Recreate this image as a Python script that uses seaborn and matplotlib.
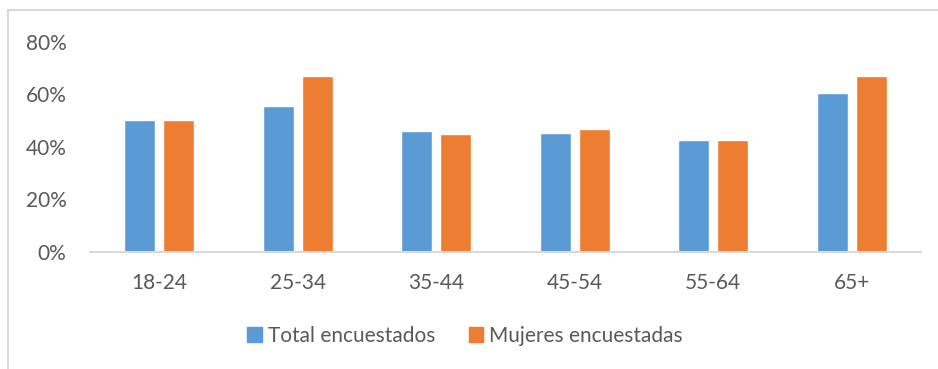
import matplotlib
matplotlib.use("Agg")
import matplotlib.pyplot as plt
import matplotlib.patches as mpatches
from matplotlib.lines import Line2D
import seaborn as sns
import pandas as pd

categories = ["18-24", "25-34", "35-44", "45-54", "55-64", "65+"]
total_encuestados = [0.50, 0.553, 0.458, 0.450, 0.424, 0.604]
mujeres_encuestadas = [0.50, 0.667, 0.447, 0.466, 0.424, 0.667]
series_names = ["Total encuestados", "Mujeres encuestadas"]
colors = ["#5B9BD5", "#ED7D31"]
yticks = [0, 0.2, 0.4, 0.6, 0.8]
ytick_labels = ["0%", "20%", "40%", "60%", "80%"]

df = pd.DataFrame({
    "cat": categories * 2,
    "val": total_encuestados + mujeres_encuestadas,
    "serie": [series_names[0]] * len(categories) + [series_names[1]] * len(categories),
})

sns.set_style("white")
plt.rcParams["font.family"] = ["Lato", "DejaVu Sans"]
txt = "#595959"

fig = plt.figure(figsize=(9.38, 3.69), dpi=100)
ax = fig.add_axes([90/938, (369-251.7)/369, (921-90)/938, (251.7-41.5)/369])
sns.barplot(data=df, x="cat", y="val", hue="serie", hue_order=series_names,
            palette=colors, width=0.56, gap=0.2, ax=ax, legend=False,
            saturation=1, errorbar=None)
ax.set_ylim(0, 0.8)
ax.set_xlim(-0.5, len(categories) - 0.5)
ax.set_yticks(yticks)
ax.set_yticklabels(ytick_labels)
ax.set_xlabel("")
ax.set_ylabel("")
for s in ["top", "right", "left"]:
    ax.spines[s].set_visible(False)
ax.spines["bottom"].set_color("#D9D9D9")
ax.spines["bottom"].set_linewidth(1.5)
ax.tick_params(axis="both", length=0, labelsize=15, labelcolor=txt)
ax.tick_params(axis="x", pad=15)
ax.tick_params(axis="y", pad=17)

handles = [mpatches.Patch(color=c, label=n) for c, n in zip(colors, series_names)]
leg = fig.legend(handles=handles, loc="center", bbox_to_anchor=(465/938, 1 - 336/369),
                 ncol=2, frameon=False, fontsize=15, handlelength=0.7, handleheight=0.7,
                 handletextpad=0.3, columnspacing=1.6, labelcolor=txt)

# outer chart border (left and top visible)
fig.add_artist(Line2D([8/938, 8/938], [0, 1 - 10/369], transform=fig.transFigure,
                      color="#D9D9D9", lw=1.5))
fig.add_artist(Line2D([8/938, 1], [1 - 10/369, 1 - 10/369], transform=fig.transFigure,
                      color="#D9D9D9", lw=1.5))

fig.savefig("out.png", dpi=100)
